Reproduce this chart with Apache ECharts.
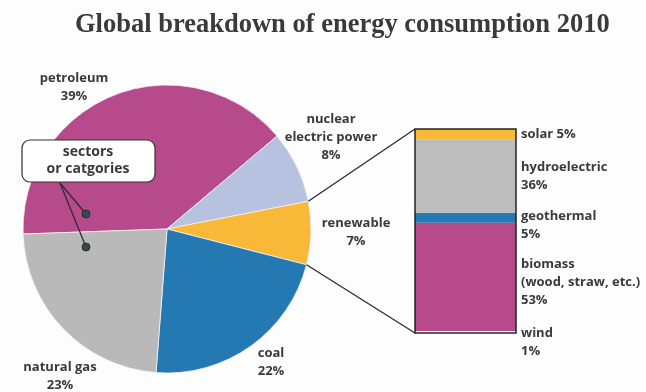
<!DOCTYPE html>
<html>
<head>
<meta charset="utf-8">
<script src="https://cdn.jsdelivr.net/npm/echarts@6/dist/echarts.min.js"></script>
<style>
  html, body { margin: 0; padding: 0; background: #fff; }
  #main { width: 646px; height: 392px; }
</style>
</head>
<body>
<div id="main"></div>
<script>
// global energy consumption by sector, 2010 (%)
const sectors = ['petroleum', 'nuclear\nelectric power', 'renewable', 'coal', 'natural gas'];
const sectorShares = [39, 8, 7, 22, 23];

// breakdown of the renewable slice, bottom to top of the column (%)
const sources = ['wind', 'biomass\n(wood, straw, etc.)', 'geothermal', 'hydroelectric', 'solar'];
const sourceShares = [1, 53, 5, 36, 5];

const sectorColors = ['#b64a8b', '#b6c2df', '#f8b838', '#2479b3', '#b9b9b9'];
const sourceColors = ['#ffffff', '#b64a8b', '#2479b3', '#bdbdbd', '#f8b838'];

// where the pie labels sit (centre of each text block)
const pieLabelPos = [[74, 87], [331, 137], [356, 232], [271, 362], [60, 376]];
// small vertical nudges for the column labels
const barLabelShift = [10, 5, 8, 0, 0];

const pieCenter = [167, 229];
const pieRadius = 144;
const pieStart = 182;
const col = { left: 415, top: 129, width: 101, height: 204 };

const labelFont = { fontFamily: 'Open Sans', fontWeight: 'bold', fontSize: 13, color: '#3a3a3a', lineHeight: 18 };

const chart = echarts.init(document.getElementById('main'));

// edge points of the renewable slice, for the two connector lines
const total = sectorShares.reduce((a, b) => a + b, 0);
const before = sectorShares.slice(0, 2).reduce((a, b) => a + b, 0);
const a1 = (pieStart - 360 * before / total) * Math.PI / 180;
const a2 = (pieStart - 360 * (before + sectorShares[2]) / total) * Math.PI / 180;
const p1 = [pieCenter[0] + pieRadius * Math.cos(a1), pieCenter[1] - pieRadius * Math.sin(a1)];
const p2 = [pieCenter[0] + pieRadius * Math.cos(a2), pieCenter[1] - pieRadius * Math.sin(a2)];

const barSeries = sources.map(function (name, i) {
  return {
    type: 'bar',
    stack: 'renewable',
    name: name,
    barWidth: '100%',
    data: [sourceShares[i]],
    itemStyle: { color: sourceColors[i] },
    label: {
      show: true,
      position: 'right',
      distance: 5,
      offset: [0, barLabelShift[i]],
      formatter: function (p) {
        return p.seriesName + (p.seriesName === 'solar' ? ' ' : '\n') + p.value + '%';
      },
      ...labelFont
    }
  };
});

const option = {
  backgroundColor: '#fdfdfd',
  animation: false,
  title: {
    text: 'Global breakdown of energy consumption 2010',
    left: 70,
    top: 7,
    textStyle: { fontFamily: 'Liberation Serif', fontWeight: 'bold', fontSize: 26.5, color: '#3a3a3a' }
  },
  grid: {
    left: col.left, top: col.top, width: col.width, height: col.height,
    show: true, z: 10, borderColor: '#222', borderWidth: 1.5, backgroundColor: 'transparent'
  },
  xAxis: { type: 'category', data: ['renewable'], show: false },
  yAxis: { type: 'value', min: 0, max: 100, show: false },
  series: [
    {
      type: 'pie',
      center: pieCenter,
      radius: pieRadius,
      startAngle: pieStart,
      clockwise: true,
      avoidLabelOverlap: false,
      data: sectors.map(function (s, i) {
        return { name: s, value: sectorShares[i], itemStyle: { color: sectorColors[i] } };
      }),
      itemStyle: { borderColor: '#f4f4f4', borderWidth: 0.8 },
      label: {
        show: true,
        position: 'outside',
        align: 'center',
        formatter: '{b}\n{c}%',
        ...labelFont
      },
      labelLine: { show: false },
      labelLayout: function (params) {
        const pos = pieLabelPos[params.dataIndex];
        return { x: pos[0], y: pos[1], align: 'center', verticalAlign: 'middle' };
      },
      emphasis: { disabled: true }
    }
  ].concat(barSeries),
  graphic: [
    { type: 'line', shape: { x1: p1[0], y1: p1[1], x2: col.left, y2: col.top }, style: { stroke: '#2b2b2b', lineWidth: 1.3 }, z: 20 },
    { type: 'line', shape: { x1: p2[0], y1: p2[1], x2: col.left, y2: col.top + col.height }, style: { stroke: '#2b2b2b', lineWidth: 1.3 }, z: 20 },
    // "sectors or catgories" callout
    { type: 'polyline', shape: { points: [[60, 183], [86, 214]] }, style: { stroke: '#2b2b2b', lineWidth: 1.2 }, z: 20 },
    { type: 'polyline', shape: { points: [[60, 183], [86, 247]] }, style: { stroke: '#2b2b2b', lineWidth: 1.2 }, z: 20 },
    { type: 'circle', shape: { cx: 86, cy: 214, r: 4 }, style: { fill: '#2f5050', stroke: '#222', lineWidth: 0.8 }, z: 21 },
    { type: 'circle', shape: { cx: 86, cy: 247, r: 4 }, style: { fill: '#3a4848', stroke: '#222', lineWidth: 0.8 }, z: 21 },
    { type: 'rect', shape: { x: 22, y: 140, width: 133, height: 42, r: 8 }, style: { fill: '#fff', stroke: '#333', lineWidth: 1.2 }, z: 22 },
    {
      type: 'text', x: 88, y: 161, z: 23,
      style: {
        text: 'sectors\nor catgories', align: 'center', verticalAlign: 'middle',
        fontFamily: 'Open Sans', fontWeight: 'bold', fontSize: 14, lineHeight: 17, fill: '#3a3a3a'
      }
    }
  ]
};

chart.setOption(option);
</script>
</body>
</html>
